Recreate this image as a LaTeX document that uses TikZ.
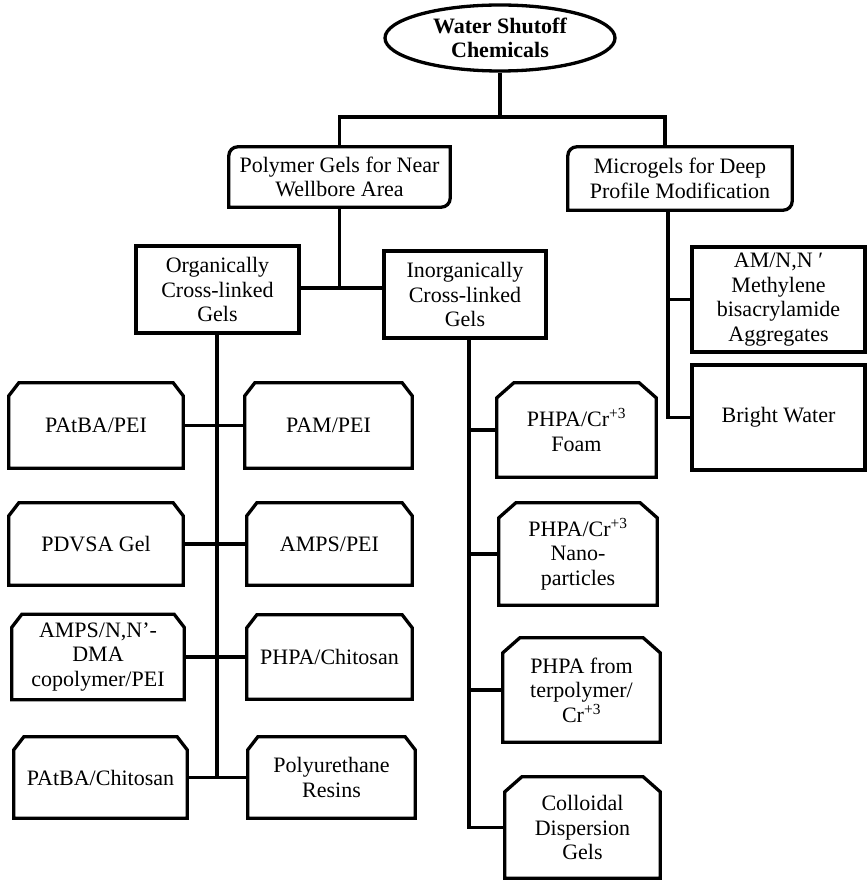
\documentclass[tikz,border=0pt]{standalone}
\usepackage{fontspec}
\setmainfont{Liberation Serif}
\usetikzlibrary{shapes.geometric,calc}
\newcommand\chamfbox[3]{\draw[boxline] ([yshift=-#3]#1.north west) -- ([xshift=#2]#1.north west) -- ([xshift=-#2]#1.north east) -- ([yshift=-#3]#1.north east) -- (#1.south east) -- (#1.south west) -- cycle;}
\newcommand\rdbox[2]{\draw[boxline] ([yshift=-#2]#1.north west) arc[start angle=180,end angle=90,radius=#2] -- (#1.north east) -- ([yshift=#2]#1.south east) arc[start angle=0,end angle=-90,radius=#2] -- (#1.south west) -- cycle;}
\begin{document}
\begin{tikzpicture}[x=1pt,y=-1pt,
  every node/.style={font=\fontsize{22}{24.5}\selectfont, align=center, inner sep=0pt},
  bx/.style n args={2}{minimum width=#1pt, minimum height=#2pt},
  boxline/.style={line width=3.3pt, line join=miter},
  conn/.style={line width=3.3pt}]
\useasboundingbox (0,0) rectangle (867,882);

% top
\node[ellipse, draw, line width=3.3pt, minimum width=230pt, minimum height=66pt,
      font=\fontsize{22}{24}\selectfont\bfseries] (top) at (500,38) {Water Shutoff\\Chemicals};
\node[bx={221}{60}] (poly) at (339.5,177) {Polymer Gels for Near\\Wellbore Area};
\node[bx={224}{63}] (micro) at (680,178.5) {Microgels for Deep\\Profile Modification};
\node[bx={163}{87},draw,line width=3.3pt] (org) at (217.5,289.5) {Organically\\Cross-linked\\Gels};
\node[bx={162}{87},draw,line width=3.3pt] (inorg) at (465,294.5) {Inorganically\\Cross-linked\\Gels};
\node[bx={173}{105},draw,line width=3.3pt] (am) at (778.5,299.5) {AM/N,N ′\\Methylene\\bisacrylamide\\Aggregates};
\node[bx={173}{105},draw,line width=3.3pt] (bright) at (778.5,417.5) {Bright Water};

% left column
\node[bx={174}{85}] (patbapei) at (96,425.5) {PAtBA/PEI};
\node[bx={167}{85}] (pampei) at (328.5,425.5) {PAM/PEI};
\node[bx={174}{82}] (pdvsa) at (96,544) {PDVSA Gel};
\node[bx={165}{82}] (ampspei) at (329.5,544) {AMPS/PEI};
\node[bx={172}{85}] (ampsdma) at (98,657) {AMPS/N,N’-\\DMA\\copolymer/PEI};
\node[bx={165}{84}] (phpachit) at (329.5,657) {PHPA/Chitosan};
\node[bx={173}{81}] (patbachit) at (100.5,777.5) {PAtBA/Chitosan};
\node[bx={167}{81}] (polyur) at (331.5,777.5) {Polyurethane\\Resins};

% middle column
\node[bx={159}{94}] (foam) at (576.5,430) {PHPA/Cr\textsuperscript{+3}\\Foam};
\node[bx={158}{102}] (nano) at (578,554) {PHPA/Cr\textsuperscript{+3}\\Nano-\\particles};
\node[bx={157}{104}] (terp) at (581.5,690) {PHPA from\\terpolymer/\\Cr\textsuperscript{+3}};
\node[bx={155}{101}] (coll) at (582.5,827.5) {Colloidal\\Dispersion\\Gels};

% box outlines
\rdbox{poly}{9pt}
\rdbox{micro}{9pt}
\foreach \n in {patbapei,pampei,pdvsa,ampspei,ampsdma,phpachit,patbachit,polyur}{\chamfbox{\n}{10pt}{13pt}}
\foreach \n in {foam,nano,terp,coll}{\chamfbox{\n}{17pt}{15pt}}

% connectors
\coordinate (bar) at (0,117);
\coordinate (jn) at (341,288);
\coordinate (mv) at (668,0);
\coordinate (ov) at (217,0);
\coordinate (iv) at (469,0);
\draw[conn] (top.south) -- (top.south |- bar);
\draw[conn] (poly.north) |- (top.south |- bar) -| (micro.north -| 665,0);
\draw[conn] (poly.south) -- (poly.south |- jn);
\draw[conn] (org.east |- jn) -- (inorg.west |- jn);
\draw[conn] (micro.south -| mv) |- (bright.west);
\draw[conn] (am.west) -- (am.west -| mv);
\draw[conn] (org.south -| ov) -- (patbachit.east -| ov);
\draw[conn] (patbapei.east) -- (pampei.west);
\draw[conn] (pdvsa.east) -- (ampspei.west);
\draw[conn] (ampsdma.east) -- (phpachit.west);
\draw[conn] (patbachit.east) -- (polyur.west);
\draw[conn] (inorg.south -| iv) |- (coll.west);
\draw[conn] (foam.west) -- (foam.west -| iv);
\draw[conn] (nano.west) -- (nano.west -| iv);
\draw[conn] (terp.west) -- (terp.west -| iv);
\end{tikzpicture}
\end{document}
